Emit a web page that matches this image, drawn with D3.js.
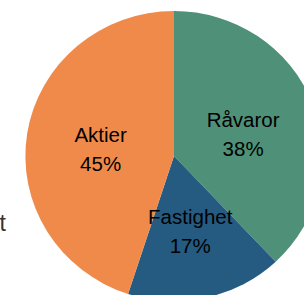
<!DOCTYPE html>
<html>
<head>
<meta charset="utf-8">
<script src="https://cdn.jsdelivr.net/npm/d3@7"></script>
<style>
  body { margin: 0; background: #fff; }
  text { font-family: "Liberation Sans", Arial, sans-serif; }
</style>
</head>
<body>
<div id="pie"></div>
<script>
// Pie data
const categories = ["Råvaror", "Fastighet", "Aktier"];
const shares = [38, 17, 45];
const colors = ["#4f9178", "#255b80", "#f08a4b"];

// Set dimensions
const width = 304;
const height = 295;
const cx = 174;
const cy = 156;
const radius = 145;
const stretchX = 1.025; // the pie is a bit wider than tall

const svg = d3.select("#pie")
  .append("svg")
  .attr("width", width)
  .attr("height", height);

const data = categories.map((c, i) => ({name: c, value: shares[i], color: colors[i]}));

const pie = d3.pie()
  .sort(null)
  .value(d => d.value);

const arc = d3.arc()
  .innerRadius(0)
  .outerRadius(radius);

const arcs = pie(data);

const g = svg.append("g")
  .attr("transform", `translate(${cx},${cy})`);

g.selectAll(".slice")
  .data(arcs)
  .enter()
  .append("path")
  .attr("class", "slice")
  .attr("transform", `scale(${stretchX},1)`)
  .attr("d", arc)
  .attr("fill", d => d.data.color);

// labels: name on top, percent under it
const labels = g.selectAll(".label")
  .data(arcs)
  .enter()
  .append("text")
  .attr("class", "label")
  .attr("transform", d => {
    const c = arc.centroid(d);
    return `translate(${c[0] * stretchX},${c[1]})`;
  })
  .attr("text-anchor", "middle")
  .attr("font-size", "20.5px")
  .attr("fill", "#000");

labels.append("tspan")
  .attr("x", 0)
  .attr("dy", "-0.12em")
  .text(d => d.data.name);

labels.append("tspan")
  .attr("x", 0)
  .attr("dy", "1.4em")
  .text(d => d.data.value + "%");

// text clipped at the left edge
svg.append("text")
  .attr("x", -0.5)
  .attr("y", 231)
  .attr("font-size", "23px")
  .attr("fill", "#333")
  .text("t");
</script>
</body>
</html>
